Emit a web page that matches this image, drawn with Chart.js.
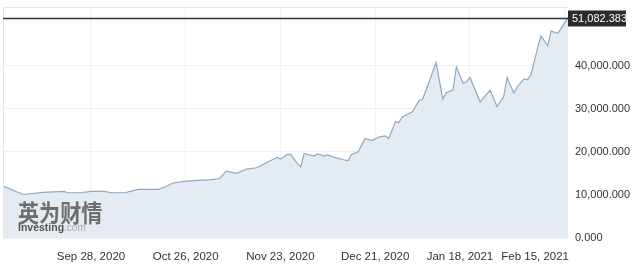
<!DOCTYPE html>
<html lang="zh-CN">
<head>
    <meta charset="UTF-8">
    <title>Investing chart</title>
    <script src="https://cdn.jsdelivr.net/npm/chart.js"></script>
    <style>
        html, body {
            margin: 0;
            padding: 0;
            background: #fff;
        }
        .chart-box {
            width: 640px;
            height: 272px;
        }
    </style>
</head>
<body>
<div class="chart-box"><canvas id="grafico"></canvas></div>
<script>
// dias contados a partir de 28/09/2020
const dias = [-26,-20,-14,-8,-7,-3,0,4,6,10,14,20,22,24,27,30,35,38,40,43,46,49,52,55,56,58,59,61,62,63,66,67,69,70,72,75,76,77,79,81,83,85,87,88,90,91,92,95,97,98,100,102,104,105,107,108,110,111,112,115,118,120,122,123,125,126,128,129,130,132,133,135,136,138,139,141];
const valores = [12060,10100,10600,10800,10500,10500,10800,10800,10500,10500,11300,11300,11900,12700,13100,13300,13500,13800,15500,15000,16000,16300,17500,18700,18300,19400,19400,17300,16500,19600,19000,19500,19000,19300,18700,18100,17900,19400,20000,23100,22600,23400,23700,23100,27000,26800,28100,29300,31900,32200,36300,40700,32200,33700,34300,39700,35900,36200,37300,31600,34300,30500,32800,37200,33600,35100,36900,36700,37800,44000,46900,44600,48000,47500,48700,51082.383];

const diasTicks = [0, 28, 56, 84, 112, 140];
const rotulosTicks = ['Sep 28, 2020', 'Oct 26, 2020', 'Nov 23, 2020', 'Dec 21, 2020', 'Jan 18, 2021', 'Feb 15, 2021'];
const valoresTicks = [0, 10000, 20000, 30000, 40000];

const fmt = v => v.toLocaleString('en-US', {minimumFractionDigits: 3, maximumFractionDigits: 3});

// rotulos dos eixos, linha do ultimo valor e marca d'agua
const extras = {
    id: 'extras',
    afterDatasetsDraw(chart) {
        const ctx = chart.ctx;
        const area = chart.chartArea;
        const x = chart.scales.x;
        const y = chart.scales.y;

        // moldura leve
        ctx.save();
        ctx.strokeStyle = '#e6e6e6';
        ctx.lineWidth = 1;
        ctx.beginPath();
        ctx.moveTo(area.left + 0.5, area.bottom);
        ctx.lineTo(area.left + 0.5, area.top + 0.5);
        ctx.lineTo(area.right, area.top + 0.5);
        ctx.stroke();

        // marca d'agua
        ctx.textBaseline = 'alphabetic';
        ctx.textAlign = 'left';
        ctx.save();
        ctx.translate(area.left + 15, area.bottom - 16);
        ctx.scale(0.88, 1);
        ctx.fillStyle = '#6e6e6e';
        ctx.font = 'bold 24px "Noto Sans CJK SC"';
        ctx.fillText('英为财情', 0, 0);
        ctx.restore();
        ctx.font = 'bold 10.5px Arial, "Liberation Sans"';
        ctx.fillStyle = '#555';
        ctx.fillText('Investing', area.left + 15, area.bottom - 7);
        const w = ctx.measureText('Investing').width;
        ctx.font = '10px Arial, "Liberation Sans"';
        ctx.fillStyle = '#aaa';
        ctx.fillText('.com', area.left + 15 + w, area.bottom - 7);

        // rotulos do eixo y
        ctx.fillStyle = '#333';
        ctx.font = '11px Arial, "Liberation Sans"';
        ctx.textBaseline = 'middle';
        valoresTicks.forEach(v => {
            ctx.fillText(fmt(v), area.right + 7, y.getPixelForValue(v));
        });

        // linha do ultimo valor
        const ultimo = valores[valores.length - 1];
        const py = Math.round(y.getPixelForValue(ultimo)) + 0.5;
        ctx.strokeStyle = '#333';
        ctx.lineWidth = 1.3;
        ctx.beginPath();
        ctx.moveTo(area.left, py);
        ctx.lineTo(area.right, py);
        ctx.stroke();
        ctx.fillStyle = '#2b2b2b';
        ctx.fillRect(area.right, py - 8, 58, 16);
        ctx.fillStyle = '#fff';
        ctx.fillText(fmt(ultimo), area.right + 4, py + 0.5);

        // rotulos do eixo x (ajustados para nao sair nem sobrepor)
        ctx.fillStyle = '#333';
        ctx.font = '11.5px Arial, "Liberation Sans"';
        ctx.textBaseline = 'alphabetic';
        let limite = area.right + 1;
        for (let i = diasTicks.length - 1; i >= 0; i--) {
            const tw = ctx.measureText(rotulosTicks[i]).width;
            let cx = x.getPixelForValue(diasTicks[i]);
            if (cx + tw / 2 > limite) cx = limite - tw / 2;
            ctx.fillText(rotulosTicks[i], cx - tw / 2, 260);
            limite = cx - tw / 2 - 8;
        }
        ctx.restore();
    }
};

const ctxGrafico = document.getElementById('grafico').getContext('2d');
const grafico = new Chart(ctxGrafico, {
    type: 'line',
    data: {
        datasets: [{
            data: dias.map((d, i) => ({x: d, y: valores[i]})),
            borderColor: '#8fa9c2',
            backgroundColor: '#e4ebf3',
            borderWidth: 1.2,
            fill: 'origin',
            tension: 0,
            pointRadius: 0
        }]
    },
    options: {
        responsive: true,
        maintainAspectRatio: false,
        animation: false,
        layout: {
            padding: {left: 3, top: 7, right: 0, bottom: 0}
        },
        plugins: {
            legend: {display: false},
            tooltip: {enabled: false}
        },
        scales: {
            x: {
                type: 'linear',
                min: -26,
                max: 141,
                afterBuildTicks: scale => {
                    scale.ticks = diasTicks.map(v => ({value: v}));
                },
                afterFit: scale => {
                    scale.height = 34;
                },
                ticks: {display: false},
                grid: {color: '#f2f2f2', drawTicks: false},
                border: {display: false}
            },
            y: {
                position: 'right',
                min: 0,
                max: 53600,
                afterBuildTicks: scale => {
                    scale.ticks = valoresTicks.map(v => ({value: v}));
                },
                afterFit: scale => {
                    scale.width = 72;
                },
                ticks: {display: false},
                grid: {color: '#f0f0f0', drawTicks: false},
                border: {display: false}
            }
        }
    },
    plugins: [extras]
});
</script>
</body>
</html>
